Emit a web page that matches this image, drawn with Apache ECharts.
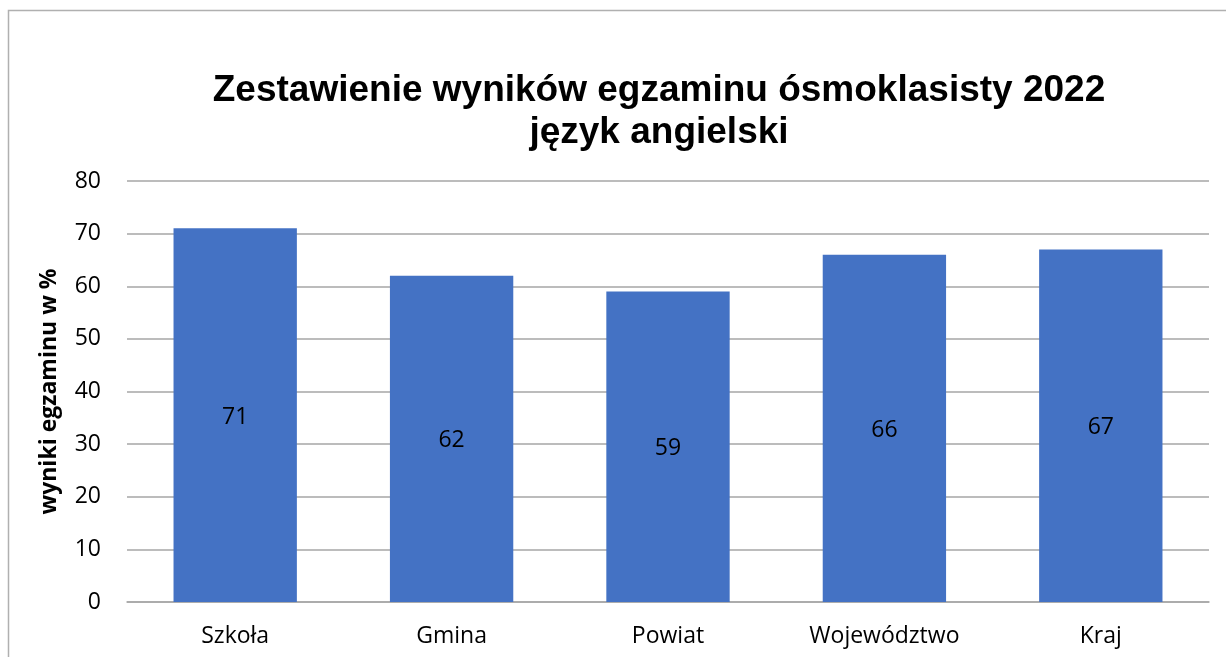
<!DOCTYPE html>
<html lang="pl">
<head>
    <meta charset="UTF-8">
    <title>Wyniki egzaminu</title>
    <script src="https://cdn.jsdelivr.net/npm/echarts@6/dist/echarts.min.js"></script>
    <style type="text/css">
        html, body { margin: 0; padding: 0; background: #fff; }
        #box { width: 1226px; height: 657px; }
    </style>
</head>
<body>
    <div id="box"></div>
<script>
    var categories = ["Szkoła", "Gmina", "Powiat", "Województwo", "Kraj"];
    var wyniki = [71, 62, 59, 66, 67];
    var yTicks = [0, 80, 10]; // min, max, interval

    var mychart = echarts.init(document.getElementById("box"));
    mychart.setOption({
        animation: false,
        graphic: [{
            type: "rect",
            shape: { x: 8.5, y: 10.5, width: 1240, height: 700 },
            style: { fill: "none", stroke: "#b0b0b0", lineWidth: 1.5 },
            silent: true
        }],
        title: {
            text: "Zestawienie wyników egzaminu ósmoklasisty 2022\njęzyk angielski",
            left: 654,
            textAlign: "center",
            top: 65,
            textStyle: {
                fontFamily: "Liberation Sans",
                fontWeight: "bold",
                fontSize: 37,
                lineHeight: 42,
                color: "#000"
            }
        },
        grid: { left: 127, right: 17, top: 181, bottom: 55 },
        xAxis: {
            type: "category",
            data: categories,
            axisTick: { show: false },
            axisLine: { lineStyle: { color: "#a6a6a6", width: 1.5 } },
            axisLabel: {
                fontFamily: "Open Sans",
                fontSize: 23,
                color: "#000",
                margin: 23
            }
        },
        yAxis: {
            type: "value",
            min: yTicks[0],
            max: yTicks[1],
            interval: yTicks[2],
            name: "wyniki egzaminu w %",
            nameLocation: "middle",
            nameGap: 66,
            nameTextStyle: {
                fontFamily: "Open Sans",
                fontWeight: "bold",
                fontSize: 23,
                color: "#000"
            },
            axisLabel: {
                fontFamily: "Open Sans",
                fontSize: 23,
                color: "#000",
                margin: 26
            },
            splitLine: { lineStyle: { color: "#a6a6a6", width: 1.5 } }
        },
        series: [{
            type: "bar",
            data: wyniki,
            barWidth: "57%",
            itemStyle: { color: "#4472c4" },
            label: {
                show: true,
                position: "inside",
                offset: [0, 2],
                fontFamily: "Open Sans",
                fontSize: 23,
                color: "#000"
            }
        }]
    });
</script>
</body>
</html>
